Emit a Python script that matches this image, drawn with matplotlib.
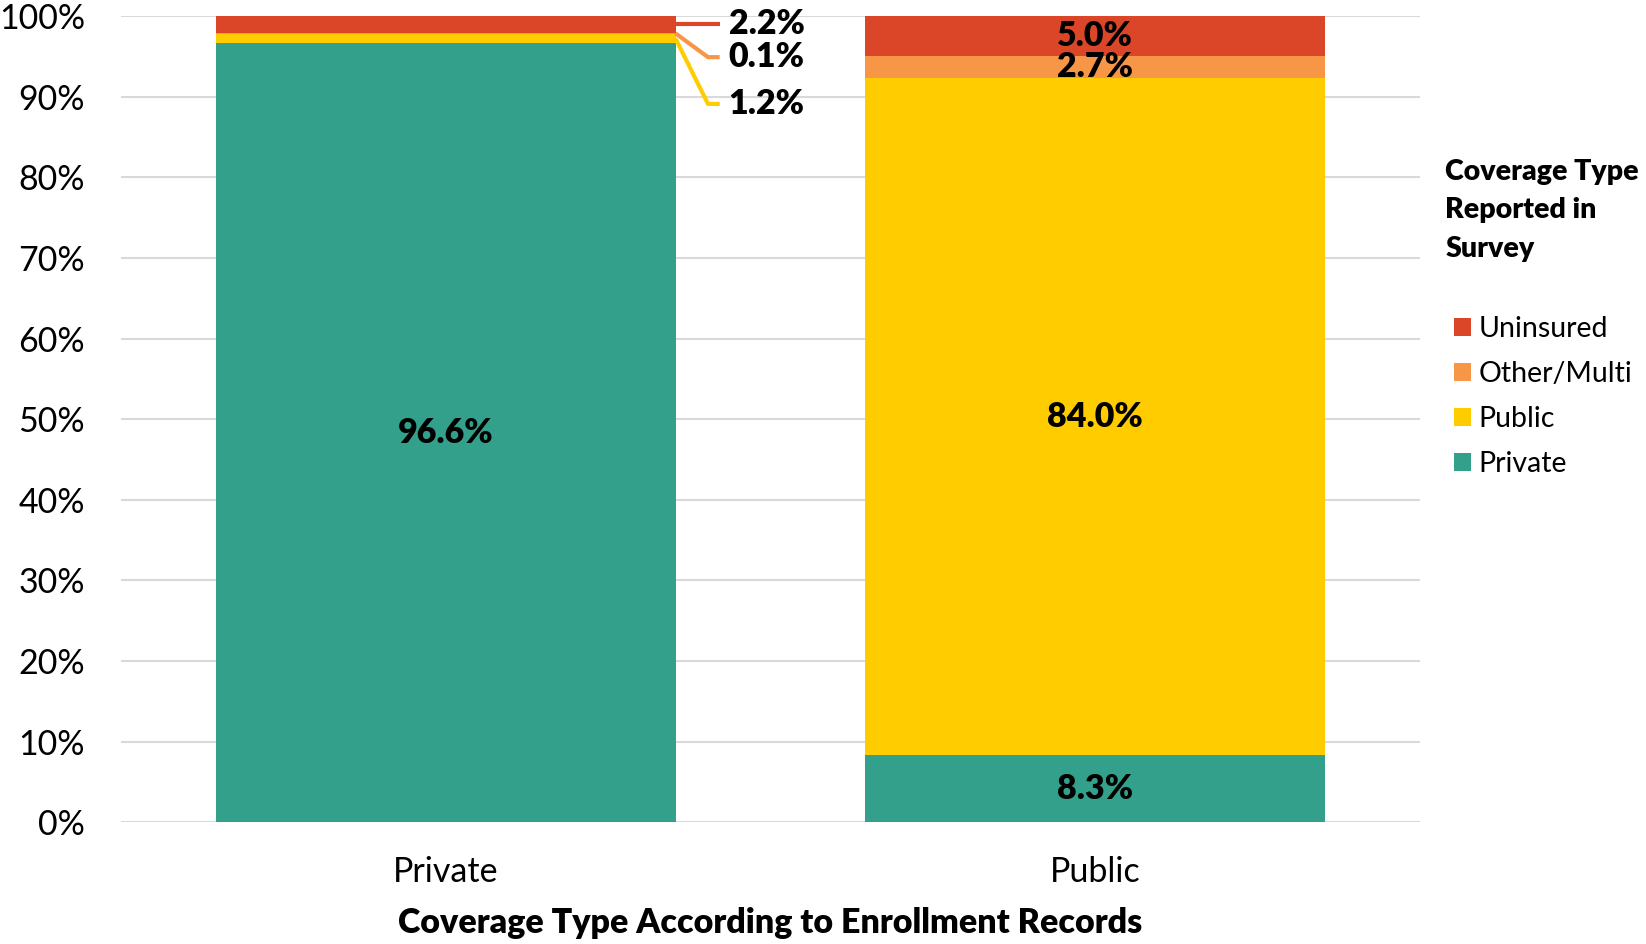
import matplotlib.pyplot as plt
import numpy as np

plt.rcParams['font.family'] = ['Lato', 'DejaVu Sans']

# Coverage according to enrollment records (x) vs. reported in survey (stack)
groups = ['Private', 'Public']
private = [96.6, 8.3]
public = [1.2, 84.0]
other = [0.1, 2.7]
uninsured = [2.2, 5.0]

series = [
    ('Private', private, '#33a08b'),
    ('Public', public, '#ffcc00'),
    ('Other/Multi', other, '#f79646'),
    ('Uninsured', uninsured, '#dc4628'),
]

fig = plt.figure(figsize=(16.46, 9.44), dpi=100)
ax = fig.add_axes([0.0735, 0.129, 0.789, 0.854])

x = np.arange(len(groups))
width = 0.708
bottom = np.zeros(len(groups))
bars = {}
for name, vals, color in series:
    vals = np.array(vals)
    bars[name] = ax.bar(x, vals, width, bottom=bottom, color=color, label=name, zorder=2)
    for i, v in enumerate(vals):
        # small segments on the Private bar get leader labels instead
        if i == 1 or name == 'Private':
            ax.text(x[i], bottom[i] + v / 2, f'{v:.1f}%', ha='center', va='center',
                    fontsize=24.5, fontweight='heavy', color='black', zorder=3)
    bottom = bottom + vals

# leader-line labels for the thin segments on the Private bar
edge = x[0] + width / 2
leaders = [
    (public[0], '#ffcc00', 89.1, private[0]),
    (other[0], '#f79646', 94.9, private[0] + public[0]),
    (uninsured[0], '#dc4628', 99.0, private[0] + public[0] + other[0]),
]
for v, color, ly, start in leaders:
    mid = start + v / 2
    ax.plot([edge, edge + 0.05, edge + 0.068], [mid, ly, ly], color=color,
            lw=3, solid_capstyle='butt', clip_on=False, zorder=3)
    ax.text(edge + 0.082, ly, f'{v:.1f}%', ha='left', va='center',
            fontsize=24.5, fontweight='heavy', color='black')

ax.set_xlim(-0.5, 1.5)
ax.set_ylim(0, 100)
ax.set_yticks(np.arange(0, 101, 10))
ax.set_yticklabels([f'{t}%' for t in range(0, 101, 10)])
ax.set_xticks(x)
ax.set_xticklabels(groups)
ax.tick_params(axis='both', length=0, labelsize=24.5, colors='black')
ax.tick_params(axis='y', pad=26)
ax.tick_params(axis='x', pad=24)
ax.yaxis.grid(True, color='#d9d9d9', lw=1.5, zorder=0)
ax.set_axisbelow(True)
for s in ax.spines.values():
    s.set_visible(False)

ax.set_xlabel('Coverage Type According to Enrollment Records', fontsize=24.5,
              fontweight='heavy', labelpad=14)

# legend with a separate multi-line title
fig.text(0.878, 0.832, 'Coverage Type\nReported in\nSurvey', ha='left', va='top',
         fontsize=20.5, fontweight='heavy', linespacing=1.6)
handles = [bars[n] for n in ['Uninsured', 'Other/Multi', 'Public', 'Private']]
labels = ['Uninsured', 'Other/Multi', 'Public', 'Private']
fig.legend(handles, labels, loc='upper left', bbox_to_anchor=(0.8765, 0.677),
           frameon=False, fontsize=20.5, handlelength=0.6, handleheight=0.6,
           handletextpad=0.25, labelspacing=0.66, borderaxespad=0)

fig.savefig('out.png', dpi=100)
